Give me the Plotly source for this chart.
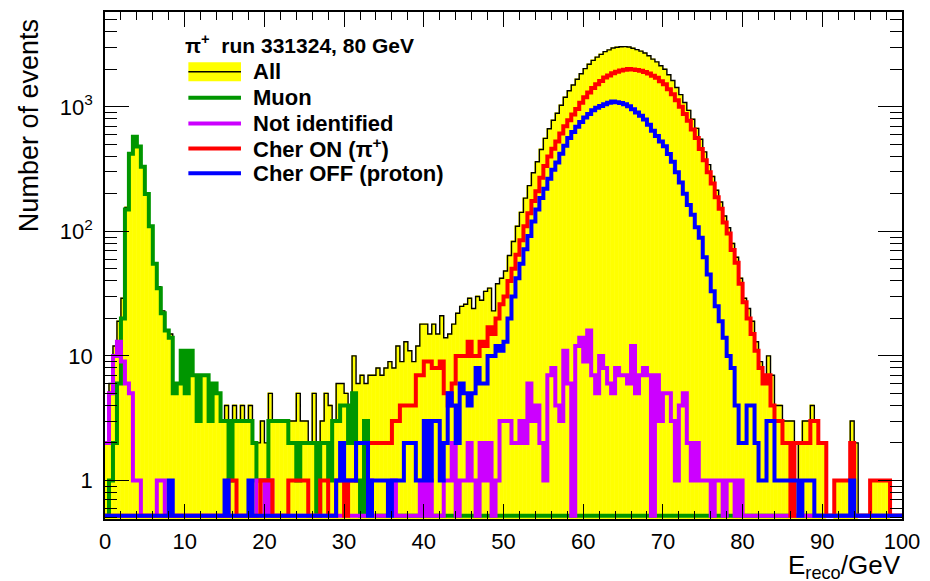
import plotly.graph_objects as go

# ---------------- data (0.5 GeV bins from 0 to 100 GeV) ----------------
bin_width = 0.5
x_min, x_max = 0.0, 100.0

muon = [
    0, 1, 2, 6, 20, 150, 420, 575, 480, 330,
    200, 110, 55, 35, 22, 16, 14, 5, 6, 11,
    5, 11, 7, 3, 7, 7, 3, 6, 5, 3,
    3, 1, 3, 3, 3, 3, 3, 2, 1, 1,
    1, 3, 3, 3, 3, 3, 2, 2, 1, 2,
    2, 2, 2, 0, 2, 2, 1, 3, 3, 4,
    4, 2, 5, 1, 0, 3, 0, 0, 0, 0,
] + [0] * 130

not_identified = [
    2, 5, 10, 13, 9, 6, 5, 1, 1, 0,
    0, 0, 0, 1, 1, 0, 0, 0, 0, 0,
    0, 0, 0, 0, 0, 0, 0, 0, 0, 0,
    0, 0, 0, 0, 0, 0, 0, 0, 1, 1,
    0, 1, 0, 0, 0, 0, 0, 0, 0, 0,
    0, 0, 0, 0, 0, 0, 0, 0, 0, 0,
    0, 0, 0, 0, 0, 0, 1, 0, 0, 0,
    0, 0, 1, 0, 0, 0, 0, 0, 0, 1,
    0, 1, 0, 0, 0, 1, 1, 2, 0, 1,
    1, 2, 1, 0, 2, 1, 2, 0, 1, 3,
    3, 3, 2, 2, 3, 2, 6, 3, 4, 2,
    1, 7, 8, 4, 3, 11, 6, 0, 12, 14,
    9, 16, 7, 5, 10, 8, 6, 5, 8, 7,
    7, 6, 12, 5, 7, 8, 7, 0, 7, 3,
    5, 5, 3, 1, 4, 5, 2, 1, 2, 1,
    1, 1, 0, 1, 1, 0, 1, 1, 0, 1,
] + [0] * 40

cher_on = [0] * 30 + [
    0, 1, 1, 0, 0, 0, 0, 0, 0, 1,
    1, 1, 0, 0, 0, 0, 1, 1, 1, 1,
    1, 0, 0, 0, 1, 1, 0, 0, 1, 1,
    0, 1, 1, 2, 2, 2, 2, 2, 2, 2,
    2, 2, 3, 3, 4, 4, 4, 4, 7, 7,
    9, 9, 8, 8, 9, 5, 4, 6, 10, 10,
    10, 13, 10, 10, 13, 12, 17, 15, 20, 26,
    30, 40, 50, 65, 85, 110, 140, 175, 210, 270,
    335, 400, 462, 528, 610, 698, 782, 870, 962, 1078,
    1196, 1305, 1418, 1523, 1617, 1722, 1788, 1862, 1918, 1963,
    1988, 2013, 1998, 1978, 1953, 1908, 1853, 1778, 1712, 1608,
    1522, 1388, 1262, 1128, 1003, 878, 772, 658, 562, 458,
    372, 298, 242, 188, 152, 118, 96, 71, 56, 38,
    27, 20, 15, 11, 8, 6, 7, 4, 3, 3,
    2, 2, 0, 2, 2, 2, 2, 3, 3, 2,
    2, 0, 0, 1, 1, 1, 1, 2, 0, 0,
    0, 0, 1, 1, 1, 1, 1, 0, 0, 0,
]

cher_off = [
    0, 0, 0, 0, 0, 0, 0, 0, 0, 0,
    0, 0, 0, 0, 0, 0, 1, 0, 0, 0,
    0, 0, 0, 0, 0, 0, 0, 0, 0, 0,
    1, 0, 0, 0, 0, 0, 1, 0, 0, 0,
    0, 0, 0, 0, 0, 0, 0, 0, 0, 0,
    0, 0, 0, 0, 0, 0, 0, 0, 1, 2,
    1, 1, 1, 2, 2, 2, 0, 1, 1, 1,
    1, 0, 1, 1, 1, 2, 2, 2, 1, 1,
    3, 1, 3, 3, 1, 2, 5, 4, 2, 6,
    5, 4, 5, 8, 6, 6, 10, 10, 12, 11,
    13, 20, 30, 42, 55, 72, 92, 120, 150, 185,
    220, 265, 312, 358, 421, 488, 562, 628, 693, 757,
    822, 878, 941, 982, 1018, 1052, 1078, 1102, 1088, 1072,
    1048, 1012, 958, 903, 848, 792, 718, 642, 583, 528,
    482, 418, 362, 298, 247, 201, 163, 136, 108, 89,
    62, 45, 33, 25, 19, 14, 10, 8, 4, 2,
    2, 4, 4, 2, 1, 1, 3, 3, 1, 1,
    1, 1, 1, 1, 0, 1, 1, 1, 0, 0,
    0, 0, 0, 0, 0, 0, 0, 1, 0, 0,
    0, 0, 0, 0, 0, 0, 0, 0, 0, 0,
]

all_events = [
    2, 6, 12, 19, 29, 156, 425, 576, 481, 330,
    200, 110, 55, 36, 23, 16, 15, 5, 6, 11,
    5, 11, 7, 3, 7, 7, 3, 6, 5, 3,
    4, 2, 4, 3, 4, 3, 4, 2, 2, 3,
    2, 5, 3, 3, 3, 3, 3, 3, 5, 3,
    3, 2, 5, 1, 3, 5, 4, 3, 6, 6,
    5, 4, 10, 6, 7, 6, 7, 7, 8, 7,
    8, 9, 8, 12, 9, 13, 11, 9, 12, 18,
    18, 15, 18, 15, 21, 14, 15, 18, 22, 25,
    26, 29, 24, 30, 28, 33, 35, 23, 38, 42,
    48, 64, 83, 110, 142, 185, 233, 296, 362, 455,
    558, 668, 780, 890, 1030, 1195, 1348, 1500, 1665, 1847,
    2030, 2200, 2365, 2510, 2640, 2780, 2870, 2970, 3010, 3040,
    3045, 3030, 2960, 2885, 2805, 2705, 2575, 2420, 2300, 2140,
    2008, 1812, 1627, 1430, 1254, 1083, 937, 795, 672, 549,
    435, 344, 276, 214, 172, 133, 107, 80, 62, 42,
    29, 24, 19, 13, 9, 7, 10, 7, 4, 4,
    3, 3, 3, 1, 2, 3, 3, 4, 3, 2,
    2, 0, 0, 1, 1, 1, 1, 3, 2, 0,
    0, 0, 1, 1, 1, 1, 1, 0, 0, 0,
]

x_tickvals = [0, 10, 20, 30, 40, 50, 60, 70, 80, 90, 100]
y_tickvals = [1, 10, 100, 1000]
y_ticktext = ["1", "10", "10<sup>2</sup>", "10<sup>3</sup>"]
y_minor_tickvals = [0.5, 0.6, 0.7, 0.8, 0.9,
                    2, 3, 4, 5, 6, 7, 8, 9,
                    20, 30, 40, 50, 60, 70, 80, 90,
                    200, 300, 400, 500, 600, 700, 800, 900,
                    2000, 3000, 4000, 5000]

legend_header = "\u03c0<sup>+</sup>\u00a0 run 331324, 80 GeV"
series_names = ["All", "Muon", "Not identified", "Cher ON (\u03c0<sup>+</sup>)", "Cher OFF (proton)"]
series_colors = ["#000000", "#009600", "#cc00ff", "#ff0000", "#0000ff"]

# ---------------- layout constants ----------------
W, H = 930, 581
PL, PR, PT, PB = 105, 908, 10, 519
y_range = [-0.31, 3.762]
FONT = "Liberation Sans, Arial, Helvetica, sans-serif"

n = len(all_events)
edges = [x_min + i * bin_width for i in range(n + 1)]
centers = [x_min + (i + 0.5) * bin_width for i in range(n)]
y_floor = 10 ** (y_range[0] + 0.026)


def step(vals):
    ys = [v if v > 0 else y_floor for v in vals]
    return edges, ys + [ys[-1]]


fig = go.Figure()

# yellow filled "All"
fig.add_trace(go.Bar(x=centers, y=all_events, width=bin_width,
                     marker=dict(color="#ffff00", line=dict(width=0.6, color="#ffff00")),
                     hoverinfo="skip", showlegend=False))

line_widths = [1.4, 4, 4, 4, 4]
for vals, col, lw in zip([all_events, muon, not_identified, cher_on, cher_off],
                         series_colors, line_widths):
    xs, ys = step(vals)
    fig.add_trace(go.Scatter(x=xs, y=ys, mode="lines",
                             line=dict(color=col, width=lw, shape="hv"),
                             hoverinfo="skip", showlegend=False))


def px(xp):
    return (xp - PL) / (PR - PL)


def py(yp):
    return (PB - yp) / (PB - PT)


shapes = []
annotations = []

# legend header
annotations.append(dict(text="<b>" + legend_header + "</b>", x=px(184), y=py(42),
                        xref="paper", yref="paper",
                        xanchor="left", yanchor="middle", showarrow=False,
                        font=dict(family=FONT, size=21, color="black")))

row_y = [70, 96, 122, 147, 172]
sym_x0, sym_x1, text_x = 189, 242, 252
for i, (name, col) in enumerate(zip(series_names, series_colors)):
    yc = row_y[i]
    if i == 0:
        shapes.append(dict(type="rect", xref="paper", yref="paper",
                           x0=px(sym_x0), x1=px(sym_x1), y0=py(yc + 9.5), y1=py(yc - 9.5),
                           fillcolor="#ffff00", line=dict(width=0)))
        shapes.append(dict(type="line", xref="paper", yref="paper",
                           x0=px(sym_x0), x1=px(sym_x1), y0=py(yc), y1=py(yc),
                           line=dict(color="black", width=1.5)))
    else:
        shapes.append(dict(type="line", xref="paper", yref="paper",
                           x0=px(sym_x0), x1=px(sym_x1), y0=py(yc), y1=py(yc),
                           line=dict(color=col, width=4)))
    annotations.append(dict(text="<b>" + name + "</b>", x=px(text_x), y=py(yc),
                            xref="paper", yref="paper",
                            xanchor="left", yanchor="middle", showarrow=False,
                            font=dict(family=FONT, size=22, color="black")))

# axis titles
annotations.append(dict(text="Number of events", x=px(28), y=py(124), xref="paper", yref="paper",
                        xanchor="center", yanchor="middle", textangle=-90, showarrow=False,
                        font=dict(family=FONT, size=27, color="black")))
annotations.append(dict(text="E<sub>reco</sub>/GeV", x=px(909), y=py(567), xref="paper", yref="paper",
                        xanchor="right", yanchor="middle", showarrow=False,
                        font=dict(family=FONT, size=26, color="black")))

fig.update_layout(
    width=W, height=H,
    margin=dict(l=PL, r=W - PR, t=PT, b=H - PB, pad=0),
    paper_bgcolor="white", plot_bgcolor="white",
    bargap=0, barmode="overlay",
    shapes=shapes, annotations=annotations,
    font=dict(family=FONT, color="black"),
    xaxis=dict(range=[x_min, x_max], tickmode="array", tickvals=x_tickvals,
               ticks="inside", ticklen=15, tickwidth=1, tickcolor="black",
               showline=True, linecolor="black", linewidth=1.5, mirror="allticks",
               showgrid=False, zeroline=False,
               tickfont=dict(family=FONT, size=22, color="black"),
               ticklabelstandoff=2,
               minor=dict(ticks="inside", ticklen=8, tickwidth=1, tickcolor="black",
                          dtick=2, tick0=0, showgrid=False)),
    yaxis=dict(type="log", range=y_range, tickmode="array", tickvals=y_tickvals, ticktext=y_ticktext,
               ticks="inside", ticklen=24, tickwidth=1, tickcolor="black",
               showline=True, linecolor="black", linewidth=1.5, mirror="allticks",
               showgrid=False, zeroline=False,
               tickfont=dict(family=FONT, size=22, color="black"),
               ticklabelstandoff=6,
               minor=dict(ticks="inside", ticklen=12, tickwidth=1, tickcolor="black",
                          tickmode="array", tickvals=y_minor_tickvals, showgrid=False)),
)

fig.write_html("out.html")
